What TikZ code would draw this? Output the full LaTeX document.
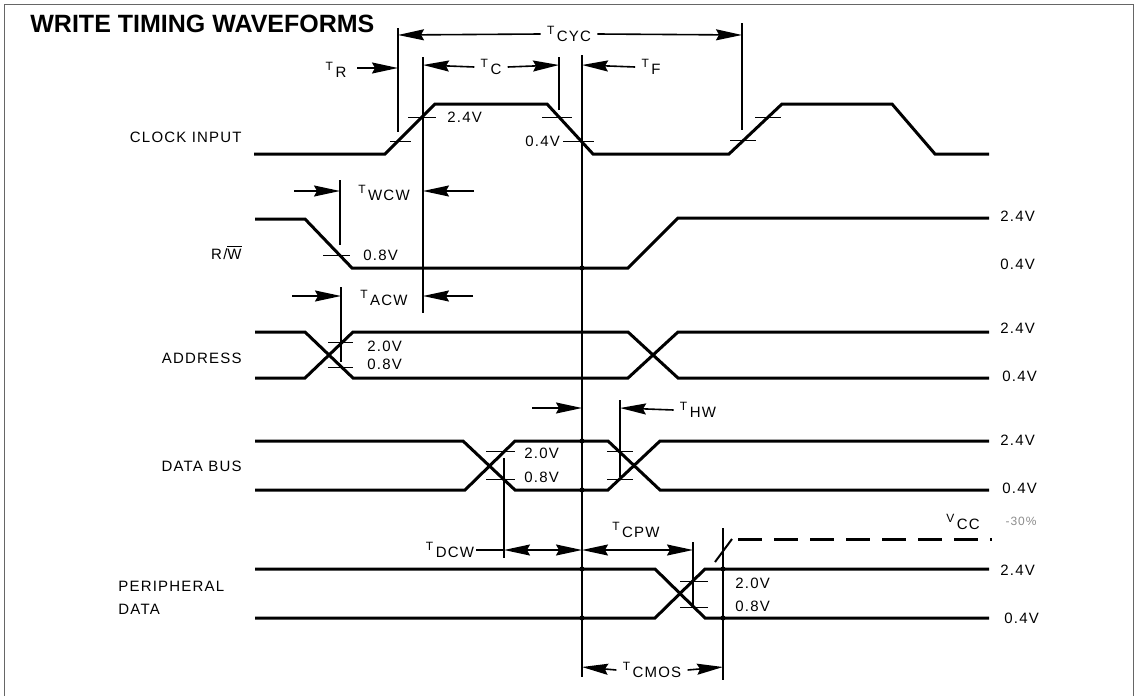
\documentclass[tikz,border=0pt]{standalone}
\usepackage{fontspec}
\setmainfont{Liberation Sans}
\newfontfamily\sigfont[LetterSpace=8]{Liberation Sans}
\usetikzlibrary{arrows.meta}

\newcommand{\sublab}[2]{\raisebox{0.9ex}{\fontsize{6}{6}\selectfont #1}\,#2}

\begin{document}
\begin{tikzpicture}[x=0.5pt, y=-0.5pt,
    every node/.style={font=\sigfont\fontsize{7.5}{9}\selectfont, inner sep=1pt},
    volt/.style={anchor=west},
    dimlabel/.style={inner xsep=3pt},
    wave/.style={line width=1.5pt, line join=miter},
    guide/.style={line width=0.8pt},
    tick/.style={line width=0.45pt},
    dim/.style={line width=0.8pt, -{Stealth[length=13pt, width=5.5pt, inset=1.5pt]}},
    dimboth/.style={line width=0.8pt, {Stealth[length=13pt, width=5.5pt, inset=1.5pt]}-{Stealth[length=13pt, width=5.5pt, inset=1.5pt]}}
]

\useasboundingbox (0,0) rectangle (1140,696);
\draw[line width=0.5pt, black!60] (4,696) -- (4,4) -- (1133,4) -- (1133,696);

\node[anchor=west, font=\bfseries\fontsize{12.5}{13}\selectfont] (title) at (28,24) {WRITE TIMING WAVEFORMS};

% signal names
\node[anchor=east] (lclk) at (244,137) {CLOCK INPUT};
\node[anchor=east] (lrw) at (244,252) {R/$\overline{\hbox{W}}$};
\node[anchor=east] (laddr) at (244,358) {ADDRESS};
\node[anchor=east] (ldata) at (244,466) {DATA BUS};
\node[anchor=west, align=left, font=\sigfont\fontsize{7.5}{11.5}\selectfont] (lperiph) at (116,598) {PERIPHERAL\\DATA};

% reference lines
\draw[guide] (398,28) -- (398,132);
\draw[guide] (742,23) -- (742,130);
\draw[guide] (423,57) -- (423,313);
\draw[guide] (559,57) -- (559,110);
\draw[guide] (582,55) -- (582,677);
\draw[guide] (340,180) -- (340,245);
\draw[guide] (341,287) -- (341,362);
\draw[guide] (504,458) -- (504,558);
\draw[guide] (620,400) -- (620,477);
\draw[guide] (693,542) -- (693,607);
\draw[guide] (723,528) -- (723,680);

% clock input
\draw[wave] (254,154) -- (385,154) -- (435,104) -- (547,104) -- (593,154) -- (729,154)
    -- (782,104) -- (892,104) -- (935,154) -- (989,154);
\draw[tick] (390,141) -- (411,141);
\draw[tick] (408,117) -- (436,117);
\draw[tick] (542,117) -- (572,117);
\draw[tick] (563,141) -- (594,141);
\draw[tick] (730,140) -- (756,140);
\draw[tick] (755,117) -- (781,117);
\node[volt] (c24) at (445,117) {2.4V};
\node[volt] (c04) at (523,141) {0.4V};

\node[dimlabel] (tcyc) at (569,34) {\sublab{T}{CYC}};
\draw[dim] (tcyc.west) -- (398,35);
\draw[dim] (tcyc.east) -- (742,35);
\node (tr) at (336,70) {\sublab{T}{R}};
\draw[dim] (357,68) -- (398,68);
\node[dimlabel] (tc) at (491,67) {\sublab{T}{C}};
\draw[dim] (tc.west) -- (423,65);
\draw[dim] (tc.east) -- (559,65);
\node[dimlabel] (tf) at (651,67) {\sublab{T}{F}};
\draw[dim] (tf.west) -- (582,65);

% read / write
\draw[wave] (255,219) -- (305,219) -- (352,268) -- (628,268) -- (678,218) -- (989,218);
\draw[tick] (323,255) -- (350,255);
\node[volt] (rw08) at (361,255) {0.8V};
\node[volt] (rw24) at (998,216) {2.4V};
\node[volt] (rw04) at (998,264) {0.4V};
\node (twcw) at (384,193) {\sublab{T}{WCW}};
\draw[dim] (294,191) -- (340,191);
\draw[dim] (474,191) -- (423,191);

% address
\draw[wave] (255,332) -- (305,332) -- (353,378) -- (628,378) -- (678,332) -- (989,332);
\draw[wave] (255,378) -- (305,378) -- (353,332) -- (628,332) -- (678,378) -- (989,378);
\draw[tick] (328,342) -- (353,342);
\draw[tick] (328,367) -- (353,367);
\node[volt] (a20) at (365,346) {2.0V};
\node[volt] (a08) at (365,364) {0.8V};
\node[volt] (a24) at (998,328) {2.4V};
\node[volt] (a04) at (1000,376) {0.4V};
\node (tacw) at (384,298) {\sublab{T}{ACW}};
\draw[dim] (292,296) -- (341,296);
\draw[dim] (473,296) -- (423,296);

% data bus
\draw[wave] (255,441) -- (463,441) -- (515,490) -- (608,490) -- (660,441) -- (989,441);
\draw[wave] (255,490) -- (465,490) -- (515,441) -- (608,441) -- (660,490) -- (989,490);
\draw[tick] (486,451) -- (515,451);
\draw[tick] (486,479) -- (515,479);
\draw[tick] (607,451) -- (633,451);
\draw[tick] (607,479) -- (633,479);
\node[volt] (d20) at (522,453) {2.0V};
\node[volt] (d08) at (522,477) {0.8V};
\node[volt] (d24) at (998,440) {2.4V};
\node[volt] (d04) at (1000,488) {0.4V};
\node[dimlabel] (thw) at (698,410) {\sublab{T}{HW}};
\draw[dim] (thw.west) -- (620,408);
\draw[dim] (532,408) -- (582,408);

\node (tdcw) at (450,550) {\sublab{T}{DCW}};
\draw[guide] (tdcw.east) -- (504,550);
\draw[dimboth] (504,550) -- (582,550);
\draw[dimboth] (582,550) -- (693,550);
\node (tcpw) at (636,530) {\sublab{T}{CPW}};

% peripheral data
\draw[wave] (255,569) -- (655,569) -- (705,618) -- (989,618);
\draw[wave] (255,618) -- (655,618) -- (705,569) -- (989,569);
\draw[tick] (680,581) -- (708,581);
\draw[tick] (680,607) -- (708,607);
\draw[line width=1pt] (715,562) -- (732,539);
\draw[line width=1.5pt, dash pattern=on 12pt off 6pt] (738,539) -- (992,539);
\node (vcc) at (963,522) {\sublab{V}{CC}};
\node[text=black!45, font=\sigfont\fontsize{6}{7}\selectfont] (vpct) at (1021,521) {-30\%};
\node[volt] (p20) at (733,583) {2.0V};
\node[volt] (p08) at (733,606) {0.8V};
\node[volt] (p24) at (998,570) {2.4V};
\node[volt] (p04) at (1002,618) {0.4V};

\node[dimlabel] (tcmos) at (652,670) {\sublab{T}{CMOS}};
\draw[dim] (tcmos.west) -- (582,667);
\draw[dim] (tcmos.east) -- (723,667);

\foreach \y in {268,441,490,569,618}
    \fill (582,\y) circle (1.3pt);
\fill (723,569) circle (1.3pt);
\fill (723,618) circle (1.3pt);

\end{tikzpicture}
\end{document}
